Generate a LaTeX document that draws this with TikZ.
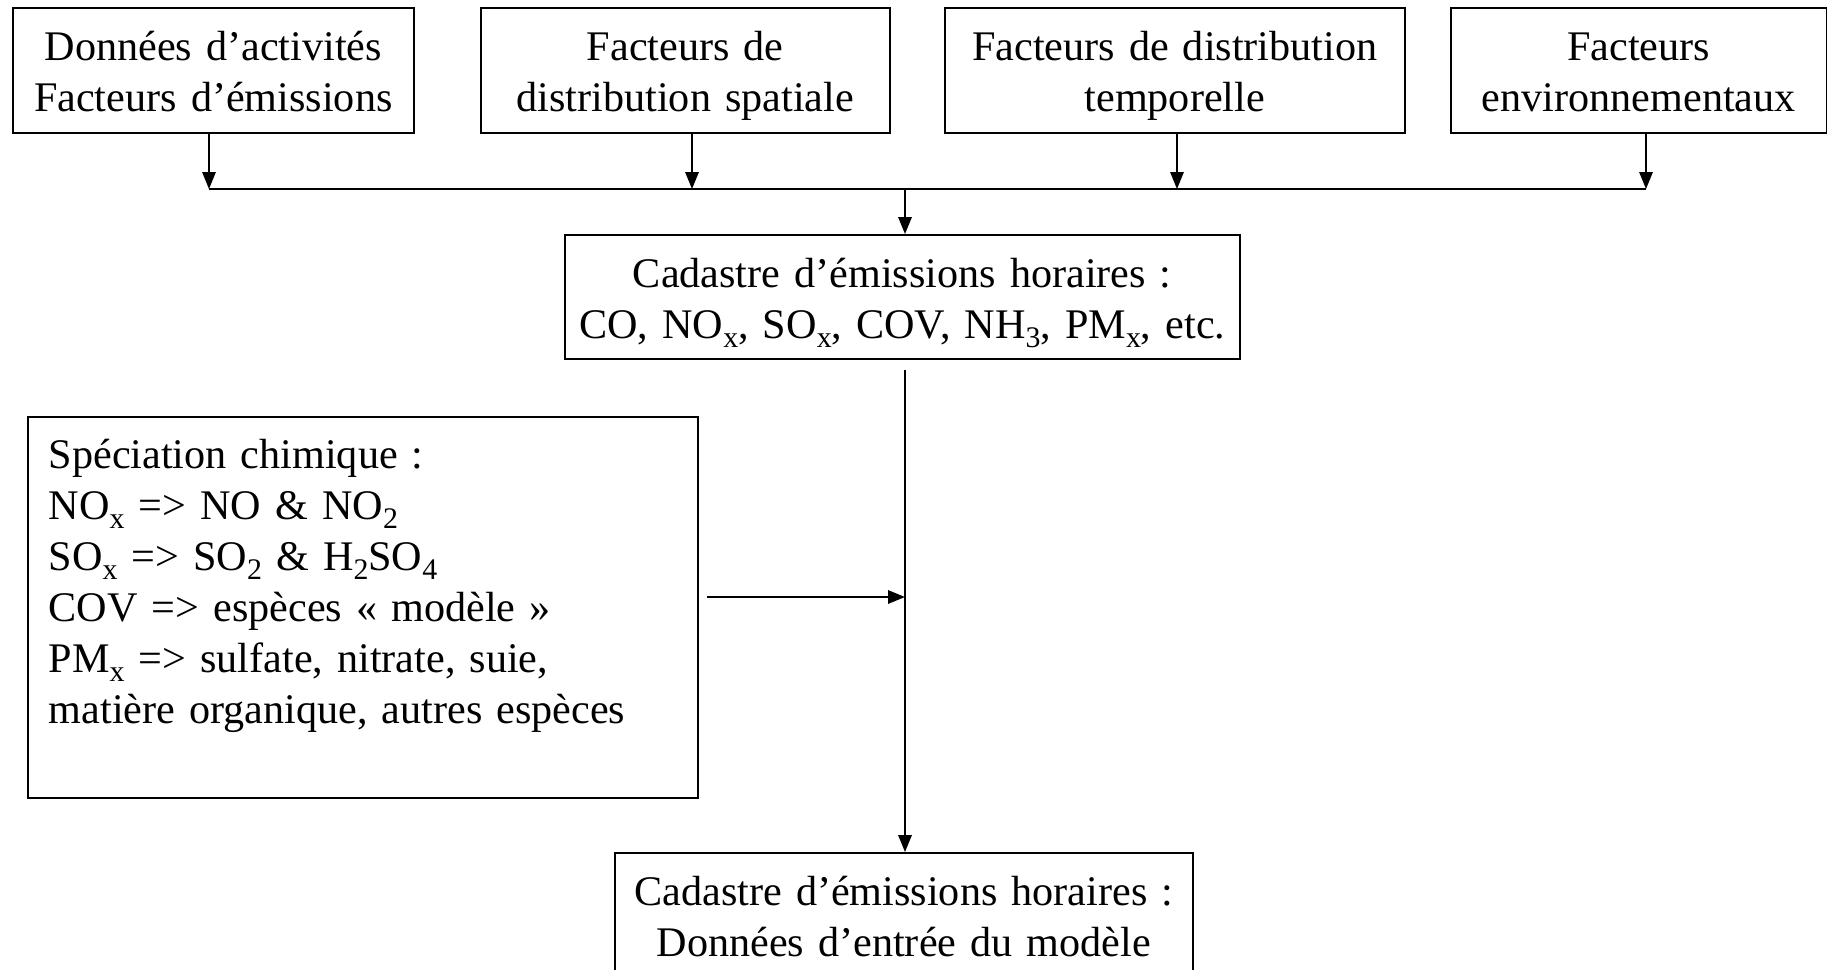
\documentclass[tikz,border=0pt]{standalone}
\usepackage{fontspec}
\setmainfont{Liberation Serif}
\usetikzlibrary{arrows.meta}
\newcommand{\indice}[1]{\raisebox{-0.9mm}{\fontsize{8.5}{8.5}\selectfont #1}}
\tikzset{
    %Define standard arrow tip
    >={Triangle[length=1.7mm,width=1.35mm]},
    %Define style for boxes
    boite/.style={
           rectangle,
           draw,
           line width=0.45pt,
           inner xsep=1mm,
           inner ysep=0pt,
           align=center,
           text height=5.3mm,
           text depth=7.2mm},
    boitetexte/.style={
           rectangle,
           draw,
           line width=0.45pt,
           inner xsep=2.1mm,
           inner ysep=0pt,
           align=left,
           text height=5.2mm,
           text depth=32.9mm},
    % Define arrow style
    fleche/.style={
           ->,
           line width=0.45pt},
    ligne/.style={
           line width=0.45pt}
}

\begin{document}
\begin{tikzpicture}[font=\fontsize{12}{14.5}\selectfont]
 \useasboundingbox (0,0) rectangle (18.27,-9.70);

 % input factors
 \node [boite, anchor=north west, text width=38.1mm] (donnees) at (0.12,-0.07)
 {Données d’activités\\Facteurs d’émissions};
 \node [boite, anchor=north west, text width=38.9mm] (spatiale) at (4.80,-0.07)
 {Facteurs de\\distribution spatiale};
 \node [boite, anchor=north west, text width=44.0mm] (temporelle) at (9.44,-0.07)
 {Facteurs de distribution\\temporelle};
 \node [boite, anchor=north west, text width=35.6mm] (environ) at (14.50,-0.07)
 {Facteurs\\environnementaux};

 % hourly inventory
 \node [boite, anchor=north west, text width=65.5mm, text depth=7.1mm] (cadastre) at (5.64,-2.34)
 {Cadastre d’émissions horaires :\\CO, NO\indice{x}, SO\indice{x}, COV, NH\indice{3}, PM\indice{x}, etc.};

 % chemical speciation
 \node [boitetexte, anchor=north west, text width=62.8mm] (speciation) at (0.27,-4.16)
 {Spéciation chimique :\\
  NO\indice{x} => NO \& NO\indice{2}\\
  SO\indice{x} => SO\indice{2} \& H\indice{2}SO\indice{4}\\
  COV => espèces « modèle »\\
  PM\indice{x} => sulfate, nitrate, suie,\\
  matière organique, autres espèces};

 % model input
 \node [boite, anchor=north west, text width=55.8mm] (entree) at (6.14,-8.52)
 {Cadastre d’émissions horaires :\\Données d’entrée du modèle};

 % bus points
 \coordinate (b1) at (2.09,-1.89);
 \coordinate (b2) at (6.92,-1.89);
 \coordinate (b3) at (11.77,-1.89);
 \coordinate (b4) at (16.46,-1.89);
 \coordinate (bj) at (9.05,-1.89);
 \coordinate (sortie) at (9.05,-3.70);
 \coordinate (depart) at (7.07,-5.97);

 % paths
 \draw[fleche] (donnees.south -| b1) -- (b1);
 \draw[fleche] (spatiale.south -| b2) -- (b2);
 \draw[fleche] (temporelle.south -| b3) -- (b3);
 \draw[fleche] (environ.south -| b4) -- (b4);
 \draw[ligne] (b1) -- (b4);
 \draw[fleche] (bj) -- (bj |- cadastre.north);
 \draw[fleche] (sortie) -- (sortie |- entree.north);
 \draw[fleche] (depart) -- (depart -| sortie);
\end{tikzpicture}
\end{document}
